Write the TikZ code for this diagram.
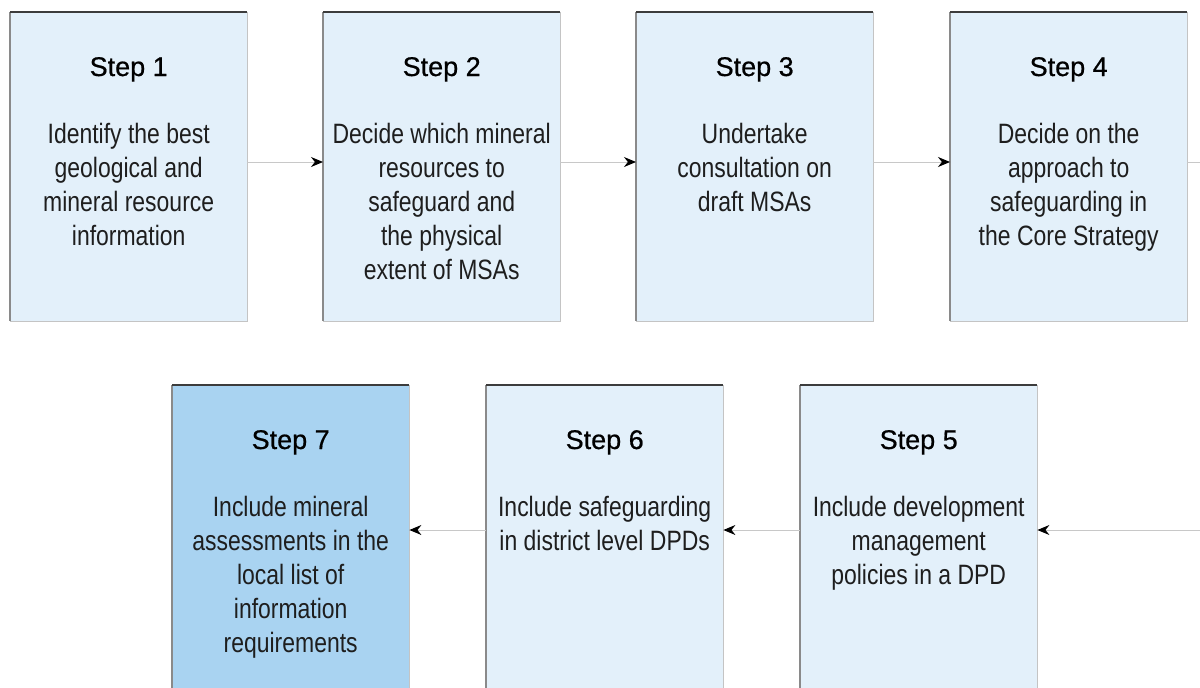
\documentclass[tikz,border=0pt]{standalone}
\usepackage{fontspec}
\setmainfont{Liberation Sans}
\newfontfamily\condfont[FakeStretch=0.82]{Liberation Sans}
\newfontfamily\titlefont[FakeBold=0.6]{Liberation Sans}
\usetikzlibrary{arrows.meta}
\definecolor{boxfill}{HTML}{E3F0FA}
\definecolor{boxdark}{HTML}{A9D3F1}
\definecolor{txt}{HTML}{1E1E1E}
\definecolor{topedge}{HTML}{3C3C3C}
\definecolor{leftedge}{HTML}{8A8A8A}
\definecolor{lightedge}{HTML}{C4C4C4}
\definecolor{linkgray}{HTML}{C8C8C8}
\tikzset{
  stepbox/.style={draw=none, fill=boxfill, minimum width=237pt, minimum height=309pt, inner sep=0pt, anchor=north west},
  titletext/.style={font=\titlefont\fontsize{27}{32}\selectfont, text=black, anchor=base, inner sep=0pt},
  bodytext/.style={font=\condfont\fontsize{28}{34}\selectfont, text=txt, align=center, anchor=north, inner sep=0pt},
  topline/.style={draw=topedge, line width=2pt},
  leftline/.style={draw=leftedge, line width=1.5pt},
  lightline/.style={draw=lightedge, line width=1.5pt},
  link/.style={draw=linkgray, line width=1pt, -{Stealth[black, length=12pt, width=10pt]}},
  plainlink/.style={draw=linkgray, line width=1pt}
}
\begin{document}
\begin{tikzpicture}[x=1pt, y=-1pt]
\useasboundingbox (0,0) rectangle (1200,688);
\clip (0,0) rectangle (1200,688);
\fill[white] (0,0) rectangle (1200,688);
% boxes
\node[stepbox] (b1) at (10,12) {};
\node[stepbox] (b2) at (323,12) {};
\node[stepbox] (b3) at (636,12) {};
\node[stepbox] (b4) at (950,12) {};
\node[stepbox, fill=boxdark] (b7) at (172,385) {};
\node[stepbox] (b6) at (486,385) {};
\node[stepbox] (b5) at (800,385) {};
% borders
\foreach \b in {b1,b2,b3,b4,b5,b6,b7}{
  \draw[lightline] (\b.north east) -- (\b.south east) -- (\b.south west);
  \draw[leftline] (\b.north west) -- (\b.south west);
  \draw[topline] (\b.north west) -- (\b.north east);
}
% titles
\node[titletext] (t1) at ([yshift=-64pt]b1.north) {Step 1};
\node[titletext] (t2) at ([yshift=-64pt]b2.north) {Step 2};
\node[titletext] (t3) at ([yshift=-64pt]b3.north) {Step 3};
\node[titletext] (t4) at ([yshift=-64pt]b4.north) {Step 4};
\node[titletext] (t5) at ([yshift=-64pt]b5.north) {Step 5};
\node[titletext] (t6) at ([yshift=-64pt]b6.north) {Step 6};
\node[titletext] (t7) at ([yshift=-64pt]b7.north) {Step 7};
% bodies
\node[bodytext] (d1) at ([yshift=-111pt]b1.north) {Identify the best\\geological and\\mineral resource\\information};
\node[bodytext] (d2) at ([yshift=-111pt]b2.north) {Decide which mineral\\resources to\\safeguard and\\the physical\\extent of MSAs};
\node[bodytext] (d3) at ([yshift=-111pt]b3.north) {Undertake\\consultation on\\draft MSAs};
\node[bodytext] (d4) at ([yshift=-111pt]b4.north) {Decide on the\\approach to\\safeguarding in\\the Core Strategy};
\node[bodytext] (d5) at ([yshift=-111pt]b5.north) {Include development\\management\\policies in a DPD};
\node[bodytext] (d6) at ([yshift=-111pt]b6.north) {Include safeguarding\\in district level DPDs};
\node[bodytext] (d7) at ([yshift=-111pt]b7.north) {Include mineral\\assessments in the\\local list of\\information\\requirements};
% connectors
\coordinate (e1) at (1202,162);
\coordinate (e2) at (1202,530);
\draw[link] (b1.east |- 0,162) -- (b2.west |- 0,162);
\draw[link] (b2.east |- 0,162) -- (b3.west |- 0,162);
\draw[link] (b3.east |- 0,162) -- (b4.west |- 0,162);
\draw[plainlink] (b4.east |- e1) -- (e1);
\draw[link] (e2) -- (b5.east |- e2);
\draw[link] (b5.west |- e2) -- (b6.east |- e2);
\draw[link] (b6.west |- e2) -- (b7.east |- e2);
\end{tikzpicture}
\end{document}
